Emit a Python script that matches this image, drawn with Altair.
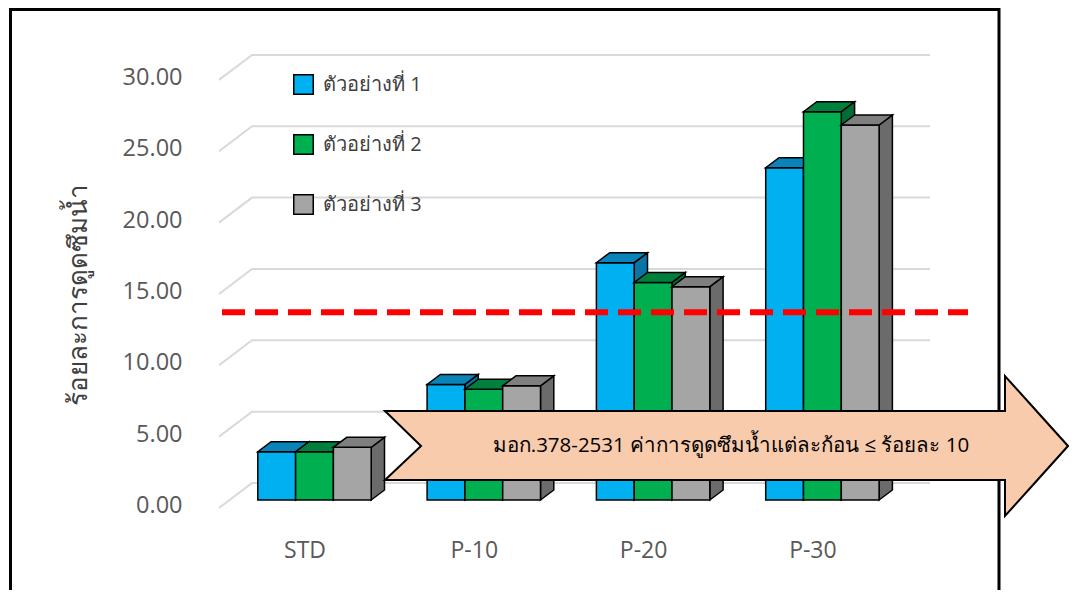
import json
import altair as alt
import pandas as pd

# ---------------- data ----------------
categories = ["STD", "P-10", "P-20", "P-30"]
series_names = ["ตัวอย่างที่ 1", "ตัวอย่างที่ 2", "ตัวอย่างที่ 3"]
sample_1 = [3.38, 8.10, 16.63, 23.29]
sample_2 = [3.38, 7.76, 15.25, 27.21]
sample_3 = [3.69, 8.00, 14.95, 26.28]
y_ticks = [0, 5, 10, 15, 20, 25, 30]
limit_line = 13.15
y_title = "ร้อยละการดูดซึมน้ำ"
note_text = "มอก.378-2531 ค่าการดูดซึมน้ำแต่ละก้อน ≤ ร้อยละ 10"

# ---------------- style ----------------
front_colors = ["#00B0F0", "#00B050", "#A5A5A5"]
top_colors = ["#0A84B8", "#00803C", "#7F7F7F"]
side_colors = ["#0A74A4", "#006E34", "#6B6B6B"]
FONT = "Open Sans"

# ---------------- layout (view pixels) ----------------
W, H = 1061, 582
GROUP_PX = 169.3      # distance between categories
UNIT_PX = 14.27       # pixels per value unit
X0_PX = 306.5         # centre of first category
Y0_PX = 492.0         # value 0 on the bar plane


def gx(px):
    return (px - X0_PX) / GROUP_PX


def vy(py):
    return (Y0_PX - py) / UNIT_PX


BAR_W = 37.8 / GROUP_PX
DEPTH_X = 13.3 / GROUP_PX
DEPTH_Y = 10.0 / UNIT_PX

x_scale = alt.Scale(domain=[gx(0), gx(W)], nice=False, zero=False)
y_scale = alt.Scale(domain=[vy(H), vy(0)], nice=False, zero=False)

label_expr = json.dumps(categories) + "[round(datum.value)]"
x_axis = alt.Axis(
    values=list(range(len(categories))), labelExpr=label_expr, domain=False,
    ticks=False, tickSize=0, grid=False, labelFontSize=23, labelColor="#595959",
    labelFont=FONT, labelOffset=-10, labelPadding=0, offset=-51, title=None,
)
y_axis = alt.Axis(
    values=y_ticks, format=".2f", domain=False, ticks=False, tickSize=0, grid=False,
    labelFontSize=23.5, labelColor="#595959", labelFont=FONT, labelPadding=2,
    labelOffset=5.5, offset=-176, title=y_title, titleAngle=270, titleX=-106,
    titleY=286, titleFontSize=26, titleColor="#404040", titleFontWeight="normal",
    titleBaseline="middle", titleAlign="center", titleFont=FONT,
)


def X(field, **kw):
    return alt.X(field, scale=x_scale, axis=x_axis, **kw)


def Y(field, **kw):
    return alt.Y(field, scale=y_scale, axis=y_axis, **kw)


values = [sample_1, sample_2, sample_3]

# ---------------- frame ----------------
frame = alt.Chart(pd.DataFrame({"a": [0]})).mark_rect(
    fill="white", fillOpacity=0, stroke="black", strokeWidth=3
).encode(x=alt.value(2.5), x2=alt.value(991), y=alt.value(1.5), y2=alt.value(640))

# ---------------- gridlines ----------------
grid_rows = []
for v in y_ticks:
    grid_rows.append({"tick": v, "k": 0, "x": gx(211), "y": v - 8 / UNIT_PX})
    grid_rows.append({"tick": v, "k": 1, "x": gx(244), "y": v + 17 / UNIT_PX})
    grid_rows.append({"tick": v, "k": 2, "x": gx(922), "y": v + 17 / UNIT_PX})
grid_df = pd.DataFrame(grid_rows)

grid = alt.Chart(grid_df).mark_line(color="#D9D9D9", strokeWidth=2).encode(
    x=X("x:Q"), y=Y("y:Q"), detail="tick:N", order="k:Q",
)

# ---------------- 3D bars ----------------
legend = alt.Legend(
    orient="none", legendX=285, legendY=66, title=None, symbolType="square",
    symbolSize=380, symbolStrokeColor="black", symbolStrokeWidth=1.5,
    labelFontSize=20, labelColor="#404040", labelFont=FONT, rowPadding=33,
    labelOffset=9, direction="vertical", padding=0,
)
color_scale = alt.Scale(domain=series_names, range=front_colors)

bar_layers = []
for s, name in enumerate(series_names):
    front_rows, top_rows, side_rows = [], [], []
    for i, cat in enumerate(categories):
        v = values[s][i]
        x0 = i - 1.5 * BAR_W + s * BAR_W
        x1 = x0 + BAR_W
        bar = f"{cat}-{s}"
        front_rows.append({"series": name, "cat": cat, "x0": x0, "x1": x1, "base": 0, "value": v})
        top_rows += [
            {"bar": bar, "x": x0, "lo": v, "hi": v},
            {"bar": bar, "x": x0 + DEPTH_X, "lo": v, "hi": v + DEPTH_Y},
            {"bar": bar, "x": x1, "lo": v, "hi": v + DEPTH_Y},
            {"bar": bar, "x": x1 + DEPTH_X, "lo": v + DEPTH_Y, "hi": v + DEPTH_Y},
        ]
        side_rows += [
            {"bar": bar, "x": x1, "lo": 0, "hi": v},
            {"bar": bar, "x": x1 + DEPTH_X, "lo": DEPTH_Y, "hi": v + DEPTH_Y},
        ]
    front = alt.Chart(pd.DataFrame(front_rows)).mark_rect(
        stroke="black", strokeWidth=1.5
    ).encode(
        x=X("x0:Q"), x2="x1:Q", y=Y("base:Q"), y2="value:Q",
        color=alt.Color("series:N", scale=color_scale, legend=legend),
    )
    top = alt.Chart(pd.DataFrame(top_rows)).mark_area(
        fill=top_colors[s], stroke="black", strokeWidth=1.5, orient="vertical"
    ).encode(x=X("x:Q"), y=Y("lo:Q"), y2="hi:Q", detail="bar:N")
    side = alt.Chart(pd.DataFrame(side_rows)).mark_area(
        fill=side_colors[s], stroke="black", strokeWidth=1.5, orient="vertical"
    ).encode(x=X("x:Q"), y=Y("lo:Q"), y2="hi:Q", detail="bar:N")
    bar_layers += [side, front, top]

# ---------------- red dashed limit line ----------------
red = alt.Chart(pd.DataFrame({"x": [gx(214)], "x2": [gx(960)], "y": [limit_line]})).mark_rule(
    color="#FF0000", strokeWidth=6, strokeDash=[23, 10]
).encode(x=X("x:Q"), x2="x2:Q", y=Y("y:Q"))

# ---------------- arrow annotation ----------------
BODY_L, NOTCH_X, BODY_R, TIP_X = 377, 413, 997, 1060
HEAD_T, BODY_T, MID_Y, BODY_B, HEAD_B = 368, 403, 438, 472, 508
EPS = 0.02


def head_x(py):
    if py <= MID_Y:
        return BODY_R + (TIP_X - BODY_R) * (py - HEAD_T) / (MID_Y - HEAD_T)
    return BODY_R + (TIP_X - BODY_R) * (HEAD_B - py) / (HEAD_B - MID_Y)


arrow_pts = [
    (HEAD_T, BODY_R, BODY_R),
    (BODY_T, BODY_R, head_x(BODY_T)),
    (BODY_T + EPS, BODY_L, head_x(BODY_T)),
    (MID_Y, NOTCH_X, TIP_X),
    (BODY_B, BODY_L, head_x(BODY_B)),
    (BODY_B + EPS, BODY_R, head_x(BODY_B)),
    (HEAD_B, BODY_R, BODY_R),
]
arrow_df = pd.DataFrame([{"ay": vy(py), "ax": gx(a), "ax2": gx(b)} for (py, a, b) in arrow_pts])
arrow = alt.Chart(arrow_df).mark_area(
    orient="horizontal", fill="#F8CBAD", stroke="black", strokeWidth=2
).encode(y=Y("ay:Q"), x=X("ax:Q"), x2="ax2:Q")

note = alt.Chart(pd.DataFrame({"x": [gx(723)], "y": [vy(438)], "t": [note_text]})).mark_text(
    fontSize=20.5, color="black", font=FONT, align="center", baseline="middle"
).encode(x=X("x:Q"), y=Y("y:Q"), text="t:N")

chart = alt.layer(frame, grid, *bar_layers, red, arrow, note).properties(
    width=W, height=H, autosize=alt.AutoSizeParams(type="none"), padding=0
).configure_view(strokeOpacity=0)

chart.save("out.html", embed_options={"renderer": "svg", "actions": False})
